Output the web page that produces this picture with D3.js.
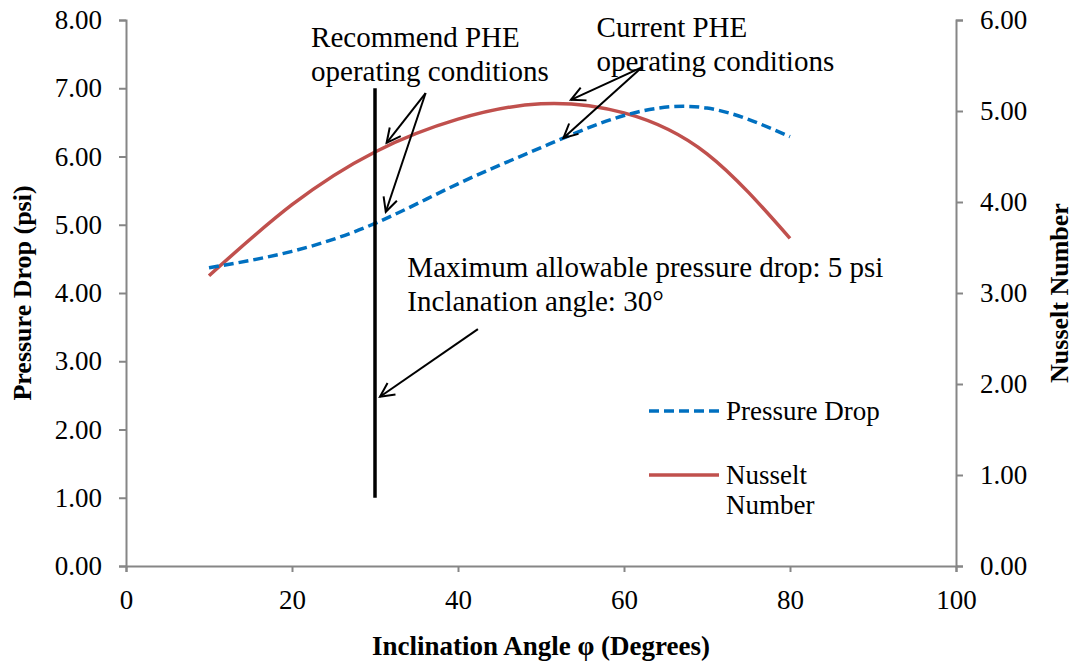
<!DOCTYPE html>
<html lang="en">
<head>
<meta charset="utf-8">
<title>Pressure Drop and Nusselt Number</title>
<script src="https://cdn.jsdelivr.net/npm/d3@7"></script>
<style>
  body { margin: 0; background: #fff; }
</style>
</head>
<body>
<script>
var angles = [10, 20, 30, 40, 50, 60, 70, 80];
var pressureDrop = [4.37, 4.61, 5.02, 5.60, 6.13, 6.60, 6.71, 6.29];
var nusselt = [3.19, 3.97, 4.55, 4.91, 5.08, 4.98, 4.53, 3.60];
var xTicks = [0, 20, 40, 60, 80, 100];
var leftTicks = [0, 1, 2, 3, 4, 5, 6, 7, 8];
var rightTicks = [0, 1, 2, 3, 4, 5, 6];

var w = 1075, h = 663;
var margin = {top: 20, right: 119, bottom: 97, left: 126};
var axisColor = "#868686";
var serif = "'Liberation Serif', 'Times New Roman', serif";

var svg = d3.select("body").append("svg")
    .attr("width", w)
    .attr("height", h)
    .attr("font-family", serif);

var x = d3.scaleLinear().domain([0, 100]).range([margin.left, w - margin.right]);
var yL = d3.scaleLinear().domain([0, 8]).range([h - margin.bottom, margin.top]);
var yR = d3.scaleLinear().domain([0, 6]).range([h - margin.bottom, margin.top]);

// arrow marker
svg.append("defs").append("marker")
    .attr("id", "arr")
    .attr("markerUnits", "userSpaceOnUse")
    .attr("markerWidth", 20).attr("markerHeight", 20)
    .attr("viewBox", "0 0 20 20")
    .attr("refX", 16).attr("refY", 10)
    .attr("orient", "auto")
    .append("path")
    .attr("d", "M2,3 L16,10 L2,17")
    .attr("fill", "none")
    .attr("stroke", "#000")
    .attr("stroke-width", 2);

// axes
var xAxis = svg.append("g")
    .attr("transform", "translate(0," + (h - margin.bottom) + ")")
    .call(d3.axisBottom(x).tickValues(xTicks).tickSizeOuter(0).tickSize(6).tickPadding(14));
var lAxis = svg.append("g")
    .attr("transform", "translate(" + margin.left + ",0)")
    .call(d3.axisLeft(yL).tickValues(leftTicks).tickFormat(d3.format(".2f")).tickSizeOuter(0).tickSize(7).tickPadding(17));
var rAxis = svg.append("g")
    .attr("transform", "translate(" + (w - margin.right) + ",0)")
    .call(d3.axisRight(yR).tickValues(rightTicks).tickFormat(d3.format(".2f")).tickSizeOuter(0).tickSize(7).tickPadding(17));

[xAxis, lAxis, rAxis].forEach(function(g) {
    g.attr("font-family", serif);
    g.selectAll("path, line").attr("stroke", axisColor).attr("stroke-width", 2);
    g.selectAll("text")
        .attr("font-size", "27px")
        .attr("fill", "#000");
});
xAxis.selectAll("text").attr("dy", "0.85em");

// axis titles
svg.append("text")
    .attr("transform", "translate(31," + ((margin.top + h - margin.bottom) / 2) + ") rotate(-90)")
    .attr("text-anchor", "middle")
    .attr("font-size", "26px")
    .attr("font-weight", "bold")
    .text("Pressure Drop (psi)");
svg.append("text")
    .attr("transform", "translate(1068," + ((margin.top + h - margin.bottom) / 2) + ") rotate(-90)")
    .attr("text-anchor", "middle")
    .attr("font-size", "26px")
    .attr("font-weight", "bold")
    .text("Nusselt Number");
svg.append("text")
    .attr("x", (margin.left + w - margin.right) / 2)
    .attr("y", 655)
    .attr("text-anchor", "middle")
    .attr("font-size", "27px")
    .attr("font-weight", "bold")
    .text("Inclination Angle φ (Degrees)");

// series
var pLine = d3.line()
    .x(function(d, i) { return x(angles[i]); })
    .y(function(d) { return yL(d); })
    .curve(d3.curveNatural);
var nLine = d3.line()
    .x(function(d, i) { return x(angles[i]); })
    .y(function(d) { return yR(d); })
    .curve(d3.curveNatural);

svg.append("path")
    .attr("d", nLine(nusselt))
    .attr("fill", "none")
    .attr("stroke", "#C0504D")
    .attr("stroke-width", 3.5);
svg.append("path")
    .attr("d", pLine(pressureDrop))
    .attr("fill", "none")
    .attr("stroke", "#0070C0")
    .attr("stroke-width", 3.5)
    .attr("stroke-dasharray", "10,5");

// vertical marker at 30 degrees
svg.append("line")
    .attr("x1", x(30)).attr("x2", x(30))
    .attr("y1", yL(1)).attr("y2", yL(7))
    .attr("stroke", "#000")
    .attr("stroke-width", 3.5);

// annotations (left axis units)
var arrows = [
    [36.1, 6.93, 31.4, 6.20],
    [36.1, 6.93, 31.3, 5.19],
    [62.2, 7.31, 53.6, 6.83],
    [62.2, 7.31, 52.7, 6.27],
    [42.4, 3.47, 30.6, 2.48]
];
svg.selectAll(".arrow")
    .data(arrows)
    .enter()
    .append("line")
    .attr("class", "arrow")
    .attr("x1", function(d) { return x(d[0]); })
    .attr("y1", function(d) { return yL(d[1]); })
    .attr("x2", function(d) { return x(d[2]); })
    .attr("y2", function(d) { return yL(d[3]); })
    .attr("stroke", "#000")
    .attr("stroke-width", 2)
    .attr("marker-end", "url(#arr)");

var notes = [
    {x: 22.3, y: 7.61, lines: ["Recommend PHE", "operating conditions"]},
    {x: 56.7, y: 7.75, lines: ["Current PHE", "operating conditions"]},
    {x: 33.9, y: 4.24, lines: ["Maximum allowable pressure drop: 5 psi", "Inclanation angle: 30°"]}
];
notes.forEach(function(n) {
    var t = svg.append("text")
        .attr("x", x(n.x))
        .attr("y", yL(n.y))
        .attr("font-size", "29px");
    n.lines.forEach(function(s, i) {
        t.append("tspan")
            .attr("x", x(n.x))
            .attr("dy", i === 0 ? 0 : 34)
            .text(s);
    });
});

// legend
var lg = svg.append("g").attr("font-size", "27px");
lg.append("line")
    .attr("x1", 649).attr("x2", 719).attr("y1", 411).attr("y2", 411)
    .attr("stroke", "#0070C0").attr("stroke-width", 3.5)
    .attr("stroke-dasharray", "10,5");
lg.append("text").attr("x", 726).attr("y", 420).text("Pressure Drop");
lg.append("line")
    .attr("x1", 649).attr("x2", 719).attr("y1", 475).attr("y2", 475)
    .attr("stroke", "#C0504D").attr("stroke-width", 3.5);
lg.append("text").attr("x", 726).attr("y", 484).text("Nusselt");
lg.append("text").attr("x", 726).attr("y", 514).text("Number");
</script>
</body>
</html>
